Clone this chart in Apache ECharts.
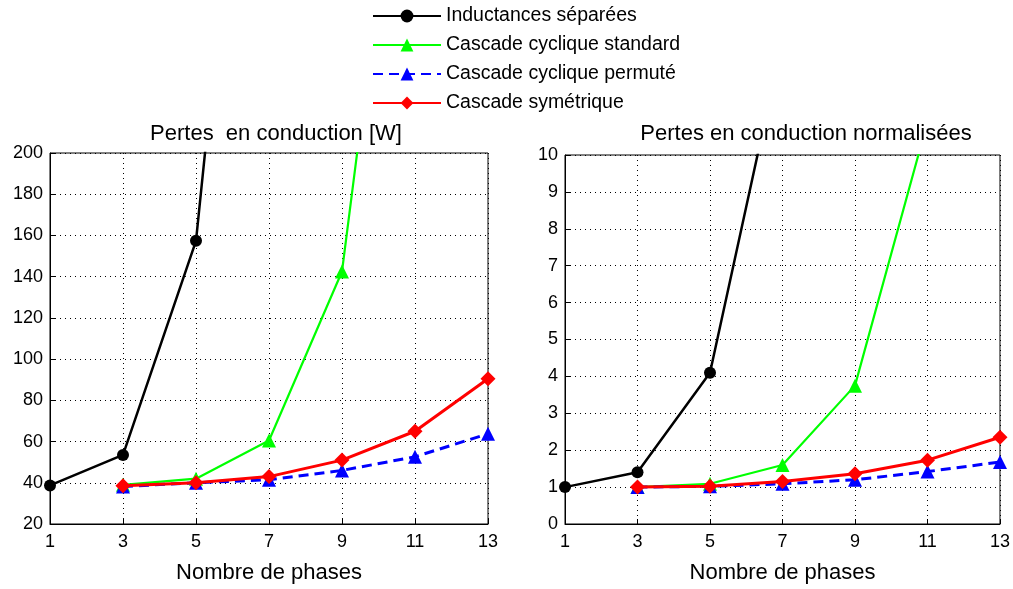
<!DOCTYPE html>
<html><head><meta charset="utf-8">
<script src="https://cdn.jsdelivr.net/npm/echarts@6/dist/echarts.min.js"></script>
<style>html,body{margin:0;padding:0;background:#fff}#c{width:1013px;height:589px}</style>
</head><body><div id="c"></div>
<script>
const phases = ['1','3','5','7','9','11','13'];
const seriesNames = ['Inductances séparées','Cascade cyclique standard','Cascade cyclique permuté','Cascade symétrique'];
// Pertes en conduction [W]
const wSeparees  = [38.7, 53.5, 157.4, 503, null, null, null];
const wStandard  = [null, 39, 42, 60.5, 142.5, 420, null];
const wPermute   = [null, 38.2, 40, 41.5, 46, 52.6, 63.8];
const wSymetrique= [null, 38.5, 40, 43, 51, 65, 90.5];
// Pertes normalisées
const nSeparees  = [1.0, 1.4, 4.1, 13.1, null, null, null];
const nStandard  = [null, 1.0, 1.09, 1.6, 3.75, 10.9, null];
const nPermute   = [null, 1.0, 1.02, 1.09, 1.2, 1.42, 1.68];
const nSymetrique= [null, 1.0, 1.02, 1.15, 1.36, 1.73, 2.35];
const leftTicks = {min:20, max:200, interval:20};
const rightTicks = {min:0, max:10, interval:1};

const FONT = 'Liberation Sans, Arial, sans-serif';
const styles = [
  {color:'#000000', symbol:'circle', size:12, width:2.5, type:'solid'},
  {color:'#00ff00', symbol:'triangle', size:14, width:2.2, type:'solid'},
  {color:'#0000ff', symbol:'triangle', size:14, width:3, type:[10,6]},
  {color:'#ff0000', symbol:'diamond', size:15, width:3, type:'solid'}
];
function mk(name, data, idx, s){
  return {name, type:'line', data, xAxisIndex:idx, yAxisIndex:idx, symbol:s.symbol, symbolSize:s.size,
    connectNulls:false, clip:true, itemStyle:{color:s.color}, lineStyle:{color:s.color, width:s.width, type:s.type},
    emphasis:{disabled:true}, animation:false, z: 2+styles.indexOf(s)};
}
const grids = [{left:50, top:153, width:438, height:375, show:true, borderColor:'#000', borderWidth:1},
               {left:565, top:155, width:437, height:376, show:true, borderColor:'#000', borderWidth:1}];
function xAx(i){return {type:'category', gridIndex:i, data:phases, boundaryGap:false,
  name:'Nombre de phases', nameLocation:'middle', nameGap:38, nameTextStyle:{fontFamily:FONT, fontSize:22, color:'#000'},
  axisLine:{lineStyle:{color:'#000'}}, axisTick:{inside:true, length:5, lineStyle:{color:'#000'}},
  axisLabel:{fontFamily:FONT, fontSize:18, color:'#000', margin:9},
  splitLine:{show:true, lineStyle:{color:'#000', type:[1,4], width:1}}};}
function yAx(i,t){return {type:'value', gridIndex:i, min:t.min, max:t.max, interval:t.interval,
  axisLine:{show:true, lineStyle:{color:'#000'}}, axisTick:{show:true, inside:true, length:5, lineStyle:{color:'#000'}},
  axisLabel:{fontFamily:FONT, fontSize:18, color:'#000', margin:7},
  splitLine:{show:true, lineStyle:{color:'#000', type:[1,4], width:1}}};}
const series = [
  mk(seriesNames[0], wSeparees, 0, styles[0]), mk(seriesNames[1], wStandard, 0, styles[1]),
  mk(seriesNames[2], wPermute, 0, styles[2]), mk(seriesNames[3], wSymetrique, 0, styles[3]),
  mk(seriesNames[0], nSeparees, 1, styles[0]), mk(seriesNames[1], nStandard, 1, styles[1]),
  mk(seriesNames[2], nPermute, 1, styles[2]), mk(seriesNames[3], nSymetrique, 1, styles[3])
];
const chart = echarts.init(document.getElementById('c'), null, {renderer:'canvas'});
chart.setOption({
  animation:false,
  backgroundColor:'#fff',
  title:[
    {text:'Pertes  en conduction [W]', left:271, top:118, textAlign:'center', textStyle:{fontFamily:FONT, fontSize:22, fontWeight:'normal', color:'#000'}},
    {text:'Pertes en conduction normalisées', left:801, top:118, textAlign:'center', textStyle:{fontFamily:FONT, fontSize:22, fontWeight:'normal', color:'#000'}}
  ],
  legend:{orient:'vertical', left:367, top:1, itemWidth:68, itemHeight:16, itemGap:9,
    data:seriesNames, textStyle:{fontFamily:FONT, fontSize:19.5, color:'#000'}, selectedMode:false},
  grid:grids,
  xAxis:[xAx(0), xAx(1)],
  yAxis:[yAx(0,leftTicks), yAx(1,rightTicks)],
  series
});
</script></body></html>
